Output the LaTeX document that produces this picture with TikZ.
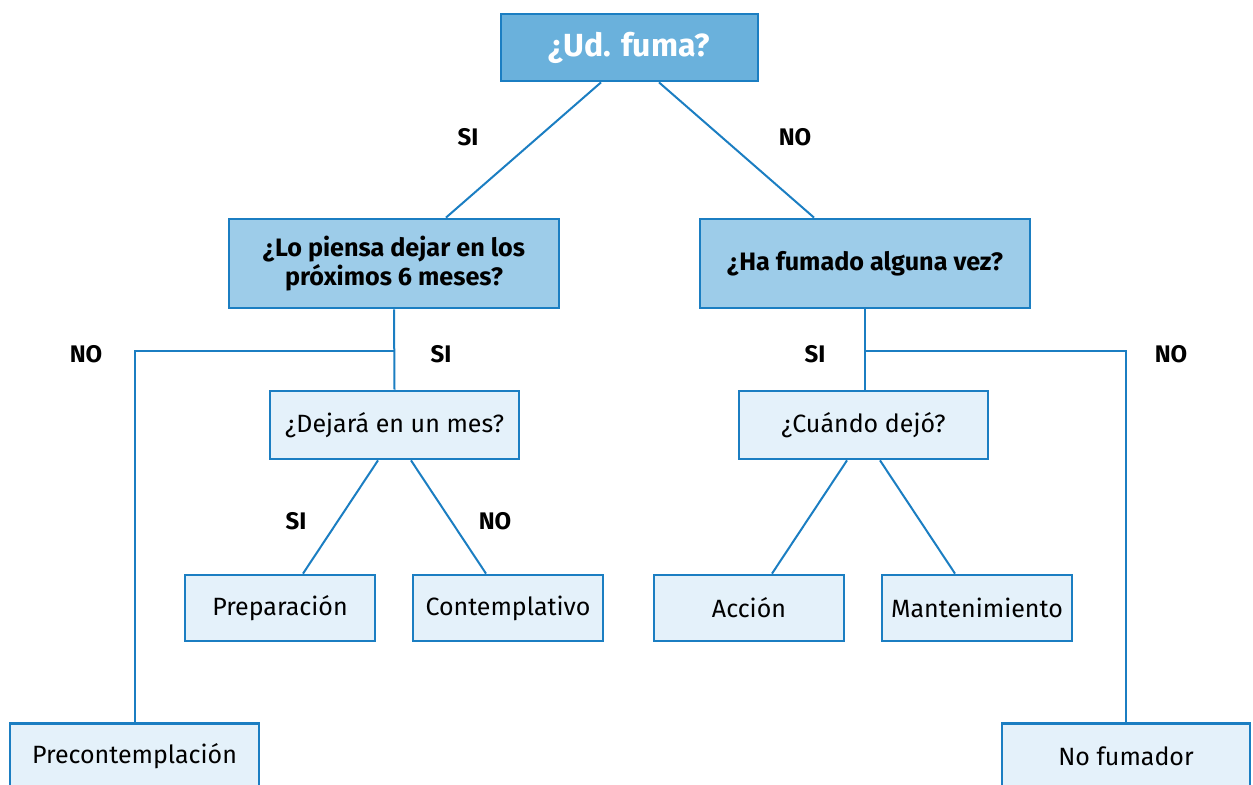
\documentclass[tikz,border=0pt]{standalone}
\usepackage{fontspec}
\setmainfont{Fira Sans}
\usepackage{tikz}
\definecolor{borde}{HTML}{1B7EC2}
\definecolor{azul}{HTML}{6AB1DC}
\definecolor{celeste}{HTML}{9DCCE9}
\definecolor{palido}{HTML}{E4F1FA}
\tikzset{
  caja/.style={draw=borde, line width=1.4pt, inner sep=0pt, align=center},
  pregunta/.style={caja, fill=celeste, font=\fontsize{12.6}{13}\selectfont\bfseries,
    minimum width=165pt, minimum height=44.5pt},
  hoja/.style={caja, fill=palido, font=\fontsize{12.5}{14}\selectfont,
    minimum width=95pt, minimum height=33pt},
  rama/.style={draw=borde, line width=1pt},
  resp/.style={font=\fontsize{12}{14}\selectfont\bfseries}
}
\begin{document}
\begin{tikzpicture}[x=0.5pt, y=-0.5pt]
    \useasboundingbox (0,0) rectangle (1253,785);
    % raiz
    \node[caja, fill=azul, text=white, font=\fontsize{16}{18}\selectfont\bfseries,
      minimum width=128.5pt, minimum height=33.5pt] (fuma) at (629.5,47.5) {¿Ud. fuma?};
    \node[pregunta] (piensa) at (394,263.5) {¿Lo piensa dejar en los\\próximos 6 meses?};
    \node[pregunta] (alguna) at (865,263.5) {¿Ha fumado alguna vez?};
    % preguntas de segundo nivel
    \node[hoja, minimum width=124.5pt, minimum height=34pt] (mes) at (394.5,425) {¿Dejará en un mes?};
    \node[hoja, minimum width=124.5pt, minimum height=34pt] (cuando) at (863.5,425) {¿Cuándo dejó?};
    % estadios
    \node[hoja] (prep) at (280,608) {Preparación};
    \node[hoja] (contem) at (508,608) {Contemplativo};
    \node[hoja] (accion) at (749,608) {Acción};
    \node[hoja] (mant) at (977,608) {Mantenimiento};
    \node[hoja, minimum width=124.5pt] (precon) at (134.5,756.5) {Precontemplación};
    \node[hoja, minimum width=124pt] (nofuma) at (1126,756.5) {No fumador};

    \draw[rama] ([xshift=-14.25pt]fuma.south) -- ([xshift=26pt]piensa.north);
    \draw[rama] ([xshift=14.75pt]fuma.south) -- ([xshift=-25.5pt]alguna.north);
    \draw[rama] (piensa.south) -- (mes.north);
    \draw[rama] (piensa.south |- 0,351) -- (precon.north |- 0,351) -- (precon.north);
    \draw[rama] (alguna.south) -- (alguna.south |- cuando.north);
    \draw[rama] (alguna.south |- 0,351) -- (nofuma.north |- 0,351) -- (nofuma.north);
    \draw[rama] ([xshift=-8.25pt]mes.south) -- ([xshift=11.5pt]prep.north);
    \draw[rama] ([xshift=8.25pt]mes.south) -- ([xshift=-11pt]contem.north);
    \draw[rama] ([xshift=-8.25pt]cuando.south) -- ([xshift=11.5pt]accion.north);
    \draw[rama] ([xshift=8.25pt]cuando.south) -- ([xshift=-11pt]mant.north);

    \node[resp] (si1) at (468,137) {SI};
    \node[resp] (no1) at (795,137) {NO};
    \node[resp] (no2) at (86,354) {NO};
    \node[resp] (si2) at (441,354) {SI};
    \node[resp] (si3) at (815,354) {SI};
    \node[resp] (no3) at (1171,354) {NO};
    \node[resp] (si4) at (296,521) {SI};
    \node[resp] (no4) at (495,521) {NO};
  \end{tikzpicture}
\end{document}
